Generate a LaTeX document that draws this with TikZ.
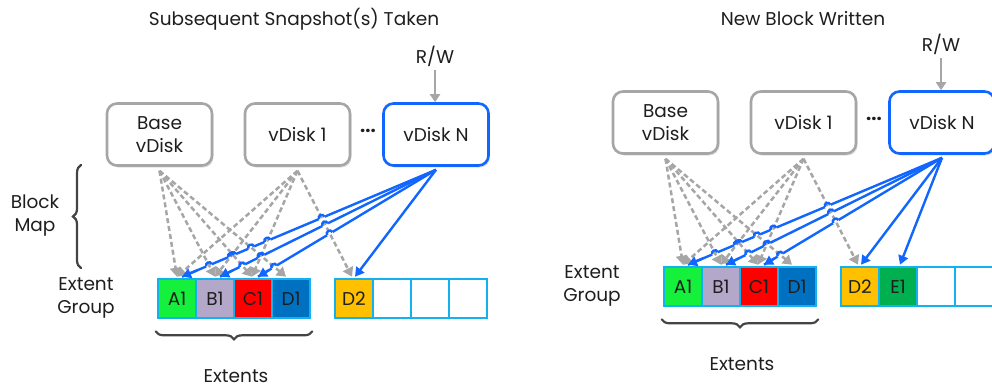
\documentclass[tikz,border=0pt]{standalone}
\usepackage{fontspec}
\setmainfont{Poppins}
\usetikzlibrary{arrows.meta,calc,intersections,decorations.pathreplacing,shadows}

\definecolor{boxgray}{HTML}{A6A6A6}
\definecolor{vblue}{HTML}{1166FF}
\definecolor{egcyan}{HTML}{12B2F0}
\definecolor{cA}{HTML}{14F03C}
\definecolor{cB}{HTML}{B4A8CA}
\definecolor{cC}{HTML}{FF0000}
\definecolor{cD}{HTML}{0070C0}
\definecolor{cDdue}{HTML}{FFC000}
\definecolor{cE}{HTML}{00B050}
\definecolor{bracegray}{HTML}{444444}
\definecolor{txt}{HTML}{1E1E1E}

\tikzset{
  vdisk/.style={draw=boxgray, line width=2.6pt, rounded corners=10pt, fill=white,
    minimum width=105pt, minimum height=62pt, align=center, inner sep=2pt,
    drop shadow={shadow xshift=1.5pt, shadow yshift=-2pt, opacity=0.3, fill=black!40}},
  vdiskrw/.style={vdisk, draw=vblue},
  cella/.style={draw=egcyan, line width=2.6pt, minimum width=38pt, minimum height=39pt, inner sep=0pt},
  grayarrow/.style={draw=boxgray, line width=2.5pt, dash pattern=on 5pt off 3pt,
    -{Triangle[length=9pt,width=11pt]}},
  bluelink/.style={draw=vblue, line width=2.4pt},
  bluearrow/.style={bluelink, -{Triangle[length=9pt,width=10pt]}},
  rwarrow/.style={draw=boxgray, line width=2.5pt, -{Triangle[length=8pt,width=10pt]}},
  graffa/.style={decorate, decoration={brace, amplitude=8pt}, draw=bracegray,
    line width=2.2pt, line cap=round},
}

% un pannello: dischi, extent group e mappa dei blocchi
\newcommand{\pannello}[2]{%
  % vDisk
  \node[vdisk] (base) at (159.5,134.5) {Base\\vDisk};
  \node[vdisk] (vd1) at (297.5,134.5) {vDisk 1};
  \node[vdiskrw] (vdn) at (436,134.5) {vDisk N};
  \node (dots) at (368,131) {\textbf{...}};
  \node (rw) at (435,56) {R/W};
  \draw[rwarrow] (rw.south) -- (rw.south |- vdn.north);
  %
  % extent group
  \node[align=center] (eg) at (86,298) {Extent\\Group};
  \node[cella, fill=cA] (a1) at (177,298.5) {A1};
  \node[cella, fill=cB] (b1) at (215,298.5) {B1};
  \node[cella, fill=cC] (c1) at (253,298.5) {C1};
  \node[cella, fill=cD] (d1) at (291,298.5) {D1};
  \node[cella, fill=cDdue] (d2) at (354,298.5) {D2};
  \node[cella, fill=#1] (e1) at (392,298.5) {#2};
  \node[cella, fill=white] (x3) at (430,298.5) {};
  \node[cella, fill=white] (x4) at (468,298.5) {};
  %
  % extents
  \draw[graffa] ([xshift=1pt,yshift=-12pt]d1.south east) -- ([xshift=-1pt,yshift=-12pt]a1.south west);
  \node (ext) at (236,376) {Extents};
  %
  % collegamenti di vDisk N (prima passata)
  \foreach \c in {a1,b1,c1}
    \draw[bluelink, name path global=b\c] ([yshift=-3pt]vdn.south) -- ([xshift=5pt,yshift=1pt]\c.north);
  %
  % percorsi tratteggiati
  \foreach \s/\c/\dx in {base/a1/0, base/b1/0, base/c1/-1, base/d1/-5,
                         vd1/a1/0, vd1/b1/0, vd1/c1/-1, vd1/d2/-2}
    \path[name path global=g\s\c] ([yshift=-4pt]\s.south) -- ([xshift=\dx pt,yshift=1pt]\c.north);
  %
  % buchi agli incroci
  \foreach \c in {a1,b1,c1}
    \foreach \g in {basea1,baseb1,basec1,based1,vd1a1,vd1b1,vd1c1,vd1d2} {
      \path[name intersections={of/.expanded={b\c\space and g\g}, total=\t}] \pgfextra{\xdef\nint{\t}};
      \ifnum\nint>0
        \foreach \k in {1,...,\nint} \fill[white] (intersection-\k) circle (3.3pt);
      \fi
    }
  %
  % mappa di Base vDisk e vDisk 1
  \foreach \s/\c/\dx in {base/a1/0, base/b1/0, base/c1/-1, base/d1/-5,
                         vd1/a1/0, vd1/b1/0, vd1/c1/-1, vd1/d2/-2}
    \draw[grayarrow] ([yshift=-4pt]\s.south) -- ([xshift=\dx pt,yshift=1pt]\c.north);
  %
  % salti
  \foreach \c in {a1,b1,c1}
    \foreach \g in {basea1,baseb1,basec1,based1,vd1a1,vd1b1,vd1c1,vd1d2} {
      \path[name intersections={of/.expanded={b\c\space and g\g}, total=\t}] \pgfextra{\xdef\nint{\t}};
      \ifnum\nint>0
        \foreach \k in {1,...,\nint} {
          \coordinate (p) at ($(intersection-\k)!3pt!(vdn.south)$);
          \coordinate (q) at ($(intersection-\k)!3pt!(\c.north)$);
          \draw[bluelink] (p) .. controls ($(p)!4pt!-90:(q)$) and ($(q)!4pt!90:(p)$) .. (q);
        }
      \fi
    }
  %
  % punte di vDisk N
  \foreach \c in {a1,b1,c1}
    \draw[bluearrow] ($([yshift=-3pt]vdn.south)!0.94!([xshift=5pt,yshift=1pt]\c.north)$)
      -- ([xshift=5pt,yshift=1pt]\c.north);
  \draw[bluearrow] ([yshift=-3pt]vdn.south) -- ([xshift=1pt,yshift=1pt]d2.north);
}

\begin{document}
\begin{tikzpicture}[x=1pt, y=-1pt, font=\fontsize{18.5}{23}\selectfont,
    every node/.append style={text=txt}]
  \useasboundingbox (0,0) rectangle (992,388);

  % pannello sinistro
  \node (titolosx) at (294,19) {Subsequent Snapshot(s) Taken};
  \pannello{white}{}
  \node[align=center] (bm) at (35,216) {Block\\Map};
  \draw[graffa] (81,268) -- (81,165);

  % pannello destro
  \node (titolodx) at (803,19) {New Block Written};
  \begin{scope}[shift={(506,-12)}]
    \pannello{cE}{E1}
    \draw[bluearrow] ([yshift=-3pt]vdn.south) -- ([xshift=2pt,yshift=1pt]e1.north);
  \end{scope}
\end{tikzpicture}
\end{document}
